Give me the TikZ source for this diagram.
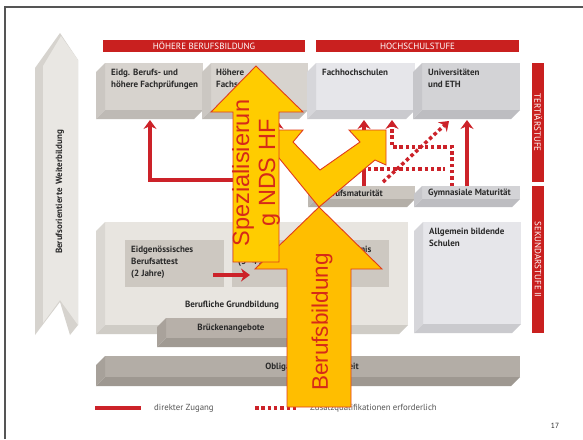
\documentclass[tikz,border=0pt]{standalone}
\usepackage{fontspec}
\setmainfont{PT Sans}
\newfontfamily\arialf{Liberation Sans}
\usetikzlibrary{arrows.meta}
\definecolor{rbar}{HTML}{C9201F}
\definecolor{rarr}{HTML}{CC2229}
\definecolor{txt}{HTML}{2A2A2A}
\definecolor{legc}{HTML}{555555}
\definecolor{ylwV}{HTML}{FFC800}
\definecolor{ylwB}{HTML}{FFBE00}
\definecolor{ylwS}{HTML}{FFCC00}
\definecolor{yedge}{HTML}{E03C1C}
\definecolor{ytext}{HTML}{D62A18}
\definecolor{frm}{HTML}{555555}
% slab colours
\definecolor{tfA}{HTML}{D7D3CE}\definecolor{tlA}{HTML}{CBC7C2}\definecolor{tbA}{HTML}{BEBAB5}
\definecolor{tfC}{HTML}{E6E6EA}\definecolor{tlC}{HTML}{D6D6DA}\definecolor{tbC}{HTML}{CACACE}
\definecolor{tfD}{HTML}{D3D3D6}\definecolor{tlD}{HTML}{C6C6CA}\definecolor{tbD}{HTML}{BDBDC1}
\definecolor{bmF}{HTML}{CBC6BF}\definecolor{bmL}{HTML}{BDB8B1}\definecolor{bmB}{HTML}{B3AEA7}
\definecolor{gbF}{HTML}{E8E5E0}\definecolor{gbL}{HTML}{DAD7D2}\definecolor{gbB}{HTML}{CFCCC6}
\definecolor{inF}{HTML}{CDC8C1}
\definecolor{brF}{HTML}{B7B0A9}\definecolor{brL}{HTML}{A9A29B}\definecolor{brB}{HTML}{A09A93}
\definecolor{obF}{HTML}{B3ADA6}\definecolor{obL}{HTML}{A7A19A}\definecolor{obB}{HTML}{9E9891}
\definecolor{bnF}{HTML}{E9E7E3}\definecolor{bnS}{HTML}{D6D3CE}
\newcommand\myslab[9]{%
  \node[slabnode, fill=#6, minimum width=#4pt, minimum height=#5pt] (#1) at (#2,#3) {};
  \fill[#7] (#1.north west) -- ++(-#9,#9) -- ++(0,#5) -- (#1.south west) -- cycle;
  \fill[#8] (#1.south west) -- ++(-#9,#9) -- ++(#4,0) -- (#1.south east) -- cycle;
}
\begin{document}
\begin{tikzpicture}[x=1pt,y=-1pt,
  slabnode/.style={rectangle, anchor=north west, inner sep=0pt, outer sep=0pt, draw=none},
  lbl/.style={anchor=north west, inner sep=0pt, align=left, text=txt, font=\bfseries\fontsize{9}{12}\selectfont},
  clbl/.style={inner sep=0pt, text=txt, font=\bfseries\fontsize{9}{12}\selectfont},
  hbar/.style={rectangle, anchor=north west, fill=rbar, inner sep=0pt, outer sep=0pt, minimum height=12pt, text=white, font=\fontsize{9}{10}\selectfont},
  vbarr/.style={rectangle, anchor=north west, fill=rbar, inner sep=0pt, outer sep=0pt, minimum width=12pt},
  vtxt/.style={inner sep=0pt, text=white, rotate=-90, font=\fontsize{9}{10}\selectfont},
  rarrow/.style={draw=rarr, line width=3.5pt, -{Stealth[length=9pt,width=13pt,inset=3pt]}},
  rline/.style={draw=rarr, line width=3.5pt},
  rdots/.style={draw=rarr, line width=3.5pt, dash pattern=on 3.5pt off 2.8pt},
  rdotarrow/.style={rdots, -{Stealth[length=9pt,width=13pt,inset=3pt]}},
  yshape/.style={draw=yedge, line width=0.9pt, line join=miter},
  ytxt/.style={text=ytext, inner sep=0pt, align=center, rotate=90},
  legtxt/.style={anchor=west, inner sep=0pt, text=legc, font=\fontsize{8.8}{10}\selectfont},
]
\useasboundingbox (0,0) rectangle (583,439);
\fill[white] (0,0) rectangle (583,439);
% slide frame
\coordinate (fa) at (5,439); \coordinate (fb) at (5,7); \coordinate (fc) at (583,7);
\draw[frm, line width=1.6pt] (fa) -- (fb) -- (fc);

% left banner
\fill[bnS] (35,68) -- (60,33) -- (78,60) -- (78,325) -- (70,335) -- (60,302) -- (35,335) -- cycle;
\fill[bnF] (43,66) -- (61,36) -- (78,60) -- (78,325) -- (60,300) -- (43,323) -- cycle;
\node[inner sep=0pt, rotate=90, text=txt, font=\bfseries\fontsize{9}{10}\selectfont] (banner) at (60,192) {Berufsorientierte\, Weiterbildung};

% header bars
\node[hbar, minimum width=202pt] (hbA) at (103,40) {HÖHERE BERUFSBILDUNG};
\node[hbar, minimum width=203pt] (hbB) at (316,40) {HOCHSCHULSTUFE};
% side bars
\node[vbarr, minimum height=119pt] (vbA) at (532,63) {};
\node[vtxt] (vtA) at (vbA.center) {TERTIÄRSTUFE};
\node[vbarr, minimum height=147pt] (vbB) at (532,186) {};
\node[vtxt] (vtB) at (vbB.center) {SEKUNDARSTUFE II};

% tertiary boxes
\myslab{bA}{105}{63}{98}{47}{tfA}{tlA}{tbA}{9}
\myslab{bB}{211}{63}{97}{47}{tfA}{tlA}{tbA}{9}
\myslab{bC}{316}{63}{99}{47}{tfC}{tlC}{tbC}{9}
\myslab{bD}{422}{63}{98}{47}{tfD}{tlD}{tbD}{9}
% maturity boxes
\myslab{bm}{316}{186}{99}{13}{bmF}{bmL}{bmB}{8}
\myslab{gm}{422}{186}{98}{13}{tfD}{tlD}{tbD}{8}
% secondary
\myslab{gb}{105}{222}{303}{103}{gbF}{gbL}{gbB}{9}
\node[slabnode, fill=inF, minimum width=99pt, minimum height=47pt] (eba) at (125,240) {};
\node[slabnode, fill=inF, minimum width=157pt, minimum height=47pt] (efz) at (232,240) {};
\myslab{ab}{423}{222}{98}{102}{tfC}{tlC}{tbC}{9}
\myslab{br}{166}{318}{130}{20}{brF}{brL}{brB}{9}
\myslab{ob}{105}{356}{415}{21}{obF}{obL}{obB}{9}

% labels
\node[lbl] (tA) at (111,69) {Eidg. Berufs- und\\höhere Fachprüfungen};
\node[lbl] (tB) at (216,69) {Höhere\\Fachschulen};
\node[lbl] (tC) at (322,69) {Fachhochschulen};
\node[lbl] (tD) at (428,69) {Universitäten\\und ETH};
\node[clbl, anchor=west] (tbm) at (322,193) {Berufsmaturität};
\node[clbl, anchor=west] (tgm) at (428,193) {Gymnasiale Maturität};
\node[lbl] (teba) at (131,246) {Eidgenössisches\\Berufsattest\\(2 Jahre)};
\node[lbl] (tefz) at (238,246) {Eidgenössisches Fähigkeitszeugnis\\(3–4 Jahre)};
\node[clbl] (tgb) at (232,305) {Berufliche Grundbildung};
\node[lbl] (tab) at (429,228) {Allgemein bildende\\Schulen};
\node[clbl] (tbr) at (231,328) {Brückenangebote};
\node[clbl] (tob) at (312,367) {Obligatorische Schulzeit};

% red connectors
\coordinate (ra1s) at (277,240); \coordinate (ra1e) at (277,120);
\coordinate (ra1m) at (277,180); \coordinate (ra2e) at (150,120);
\draw[rarrow] (ra1s) -- (ra1e);
\draw[rarrow] (ra1m) -| (ra2e);
\coordinate (ra3s) at (364,186); \coordinate (ra3e) at (364,120);
\draw[rarrow] (ra3s) -- (ra3e);
\coordinate (ra4s) at (467,186); \coordinate (ra4e) at (467,120);
\draw[rarrow] (ra4s) -- (ra4e);
\coordinate (rd1s) at (452,186); \coordinate (rd1a) at (452,147);
\coordinate (rd1b) at (392,147); \coordinate (rd1e) at (392,120);
\draw[rdotarrow] (rd1s) -- (rd1a) -- (rd1b) -- (rd1e);
\coordinate (rd2s) at (383,182); \coordinate (rd2e) at (449,121);
\draw[rdotarrow] (rd2s) -- (rd2e);
\coordinate (rd3s) at (330,169); \coordinate (rd3e) at (445,169);
\draw[rdots] (rd3s) -- (rd3e);
\coordinate (ra5s) at (213,275); \coordinate (ra5e) at (250,275);
\draw[rarrow] (ra5s) -- (ra5e);

% legend
\coordinate (lga) at (95,408); \coordinate (lgb) at (141,408);
\draw[rline] (lga) -- (lgb);
\node[legtxt] (lgt1) at (154,408) {direkter Zugang};
\coordinate (lgc) at (255,408); \coordinate (lgd) at (298,408);
\draw[rdots] (lgc) -- (lgd);
\node[legtxt] (lgt2) at (310,408) {Zusatzqualifikationen erforderlich};
\node[inner sep=0pt, text=txt, font=\fontsize{7.5}{8}\selectfont] (pg) at (555,426) {17};

% yellow overlay arrows
\filldraw[fill=ylwV, yshape] (319,207) -- (279,158) -- (266,166) -- (266,130) -- (303,130) -- (293,142) -- (320,170) -- (360,142) -- (349,130) -- (386,130) -- (386,165) -- (375,160) -- cycle;
\filldraw[fill=ylwB, yshape] (319,207) -- (382,269) -- (351,269) -- (351,407) -- (287,407) -- (287,269) -- (255,269) -- cycle;
\filldraw[fill=ylwS, yshape] (256,66) -- (303,112) -- (279,112) -- (279,262) -- (233,262) -- (233,112) -- (211,112) -- cycle;
\node[ytxt, font=\arialf\fontsize{23.5}{26}\selectfont] (spz) at (256,173) {Spezialisierun\\g NDS HF};
\node[ytxt, font=\arialf\fontsize{22.5}{26}\selectfont] (bbl) at (322,322) {Berufsbildung};
\end{tikzpicture}
\end{document}
